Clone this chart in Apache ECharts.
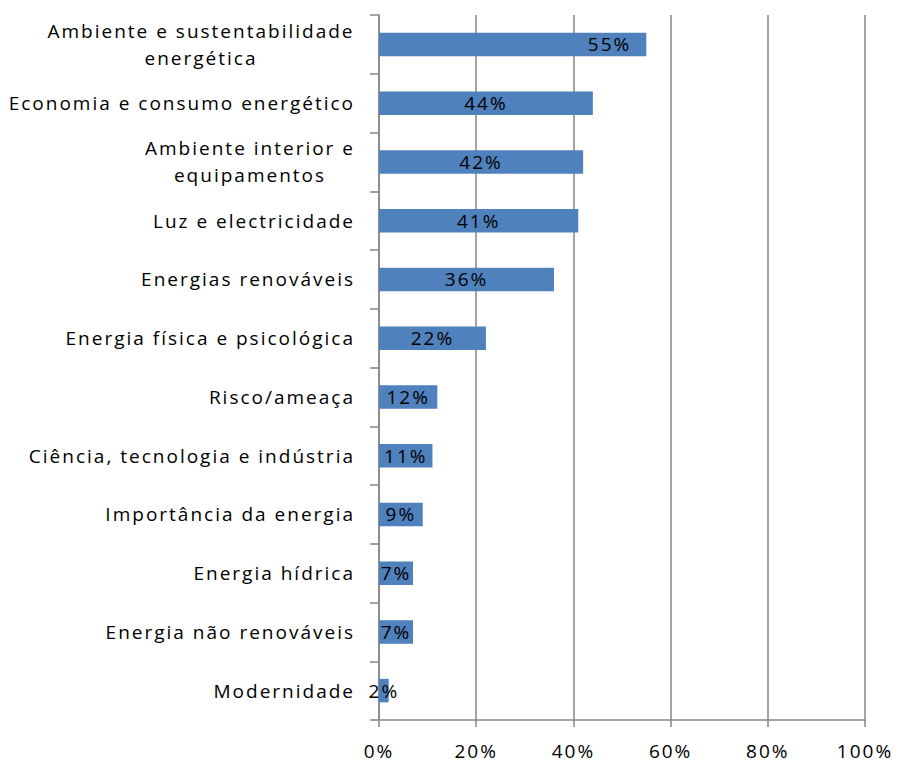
<!DOCTYPE html>
<html>
<head>
<meta charset="utf-8">
<script src="https://cdn.jsdelivr.net/npm/echarts@6/dist/echarts.min.js"></script>
<style>
html,body{margin:0;padding:0;background:#fff;}
#chart{width:897px;height:766px;}
#chart text{letter-spacing:2px;}
</style>
</head>
<body>
<div id="chart"></div>
<script>
var categories = [
  "Ambiente e sustentabilidade\nenergética",
  "Economia e consumo energético",
  "Ambiente interior e\nequipamentos",
  "Luz e electricidade",
  "Energias renováveis",
  "Energia física e psicológica",
  "Risco/ameaça",
  "Ciência, tecnologia e indústria",
  "Importância da energia",
  "Energia hídrica",
  "Energia não renováveis",
  "Modernidade"
];
var values = [55, 44, 42, 41, 36, 22, 12, 11, 9, 7, 7, 2];
var xTicks = [0, 20, 40, 60, 80, 100];

var FONT = "Open Sans";
var FS = 19;
var LS = 2;
var ctx = document.createElement('canvas').getContext('2d');
ctx.font = FS + 'px "' + FONT + '"';
var rich = {};
categories.forEach(function (c, i) {
  var lines = c.split('\n');
  if (lines.length > 1) {
    var w = 0;
    lines.forEach(function (l) { w = Math.max(w, ctx.measureText(l).width + LS * l.length); });
    rich['c' + i] = { width: Math.ceil(w), align: 'center', fontFamily: FONT, fontSize: FS, color: '#000', lineHeight: 27 };
  }
});

var chart = echarts.init(document.getElementById('chart'), null, { renderer: 'svg' });
var seriesData = values.map(function (v, i) {
  if (i === 0) return { value: v, label: { position: 'insideRight', distance: 15 } };
  return v;
});

chart.setOption({
  animation: false,
  backgroundColor: '#fff',
  grid: { left: 379, top: 15, width: 486, height: 705, containLabel: false },
  xAxis: {
    type: 'value', min: 0, max: 100, interval: 20,
    axisLine: { show: true, lineStyle: { color: '#868686', width: 1.5 } },
    axisTick: { show: true, length: 7, lineStyle: { color: '#868686', width: 1.5 } },
    splitLine: { show: true, lineStyle: { color: '#868686', width: 1.5 } },
    axisLabel: {
      formatter: function (v) { return v + '%'; }, margin: 21, color: '#000', fontFamily: FONT, fontSize: FS,
      customValues: xTicks
    }
  },
  yAxis: {
    type: 'category', data: categories, inverse: true,
    axisLine: { show: true, lineStyle: { color: '#868686', width: 1.5 } },
    axisTick: { show: true, length: 9, alignWithLabel: false, lineStyle: { color: '#868686', width: 1.5 } },
    splitLine: { show: false },
    axisLabel: {
      margin: 24, color: '#000', fontFamily: FONT, fontSize: FS, lineHeight: 27,
      formatter: function (val, idx) {
        if (val.indexOf('\n') < 0) return val;
        var i = categories.indexOf(val);
        return val.split('\n').map(function (l) { return '{c' + i + '|' + l + '}'; }).join('\n');
      },
      rich: rich
    }
  },
  series: [{
    type: 'bar', data: seriesData, barCategoryGap: '60%',
    itemStyle: { color: '#4F81BD' },
    label: { show: true, position: 'inside', color: '#000', fontFamily: FONT, fontSize: FS,
      formatter: function (p) { return p.value + '%'; } }
  }]
});
</script>
</body>
</html>
